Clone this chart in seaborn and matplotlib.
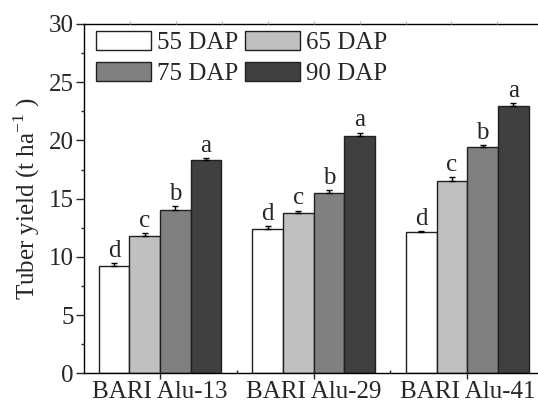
import numpy as np
import pandas as pd
import matplotlib
matplotlib.use("Agg")
import matplotlib.pyplot as plt
import seaborn as sns

varieties = ["BARI Alu-13", "BARI Alu-29", "BARI Alu-41"]
stages = ["55 DAP", "65 DAP", "75 DAP", "90 DAP"]
yield_55 = [9.2, 12.4, 12.1]
yield_65 = [11.8, 13.75, 16.55]
yield_75 = [14.05, 15.45, 19.4]
yield_90 = [18.3, 20.4, 23.0]
err_55 = [0.28, 0.25, 0.15]
err_65 = [0.25, 0.22, 0.28]
err_75 = [0.32, 0.26, 0.22]
err_90 = [0.2, 0.28, 0.22]
letters_55 = ["d", "d", "d"]
letters_65 = ["c", "c", "c"]
letters_75 = ["b", "b", "b"]
letters_90 = ["a", "a", "a"]
colors = ["#ffffff", "#c0c0c0", "#808080", "#404040"]

values = [yield_55, yield_65, yield_75, yield_90]
errors = [err_55, err_65, err_75, err_90]
letters = [letters_55, letters_65, letters_75, letters_90]

df = pd.DataFrame({
    "variety": np.tile(varieties, len(stages)),
    "stage": np.repeat(stages, len(varieties)),
    "yield": np.concatenate(values),
})

sns.set_style("ticks")
plt.rcParams["font.family"] = ["Liberation Serif", "DejaVu Serif"]
plt.rcParams["mathtext.fontset"] = "custom"
plt.rcParams["mathtext.rm"] = "Liberation Serif"
fs = 18

fig = plt.figure(figsize=(5.38, 4.04), dpi=100)
ax = fig.add_axes([84 / 538, 1 - 373.3 / 404, 459.3 / 538, 349.3 / 404])

sns.barplot(data=df, x="variety", y="yield", hue="stage", palette=colors,
            width=0.8, errorbar=None, edgecolor="#202020", linewidth=1.0,
            saturation=1, ax=ax)

for cont, err, lab in zip(ax.containers, errors, letters):
    xs = [b.get_x() + b.get_width() / 2 for b in cont]
    hs = [b.get_height() for b in cont]
    ax.errorbar(xs, hs, yerr=[np.zeros(len(err)), err], fmt="none",
                ecolor="black", elinewidth=1.0, capsize=2.5, capthick=1.0)
    for x, h, e, t in zip(xs, hs, err, lab):
        ax.text(x, h + e + 0.1, t, ha="center", va="bottom", fontsize=fs)

ax.set_xlim(-0.495, 2.495)
ax.set_ylim(0, 30)
ax.set_yticks(np.arange(0, 31, 5))
ax.set_yticks(np.arange(2.5, 30, 5), minor=True)
ax.set_xticks([0.5, 1.5], minor=True)
ax.tick_params(axis="y", which="major", direction="out", length=5.5, width=1, labelsize=fs, pad=2)
ax.tick_params(axis="y", which="minor", direction="out", length=2.5, width=1)
ax.tick_params(axis="x", which="major", direction="out", length=4.5, width=1, labelsize=fs, pad=1)
ax.tick_params(axis="x", which="minor", direction="in", length=2.5, width=1)
ax.set_xlabel("")
ax.set_ylabel(r"Tuber yield (t ha$^{\mathregular{-1}}$ )", fontsize=fs, labelpad=5)
for s in ax.spines.values():
    s.set_linewidth(1.0)
    s.set_color("black")

top = ax.twiny()
top.set_xlim(0, 10)
top.set_xticks(np.arange(1, 10))
top.set_xticklabels([])
top.tick_params(axis="x", direction="out", length=2.5, width=0.8, color="#b0b0b0")
for s in top.spines.values():
    s.set_visible(False)

# row-major legend order: 55 65 / 75 90
handles, labels = ax.get_legend_handles_labels()
order = [0, 2, 1, 3]
ax.legend([handles[i] for i in order], [labels[i] for i in order],
          ncol=2, loc="upper left", bbox_to_anchor=(0.026, 0.98), frameon=False,
          fontsize=fs, handlelength=2.2, handleheight=0.8, handletextpad=0.25,
          columnspacing=0.25, labelspacing=0.3, borderpad=0, borderaxespad=0)

fig.savefig("out.png", dpi=100)
